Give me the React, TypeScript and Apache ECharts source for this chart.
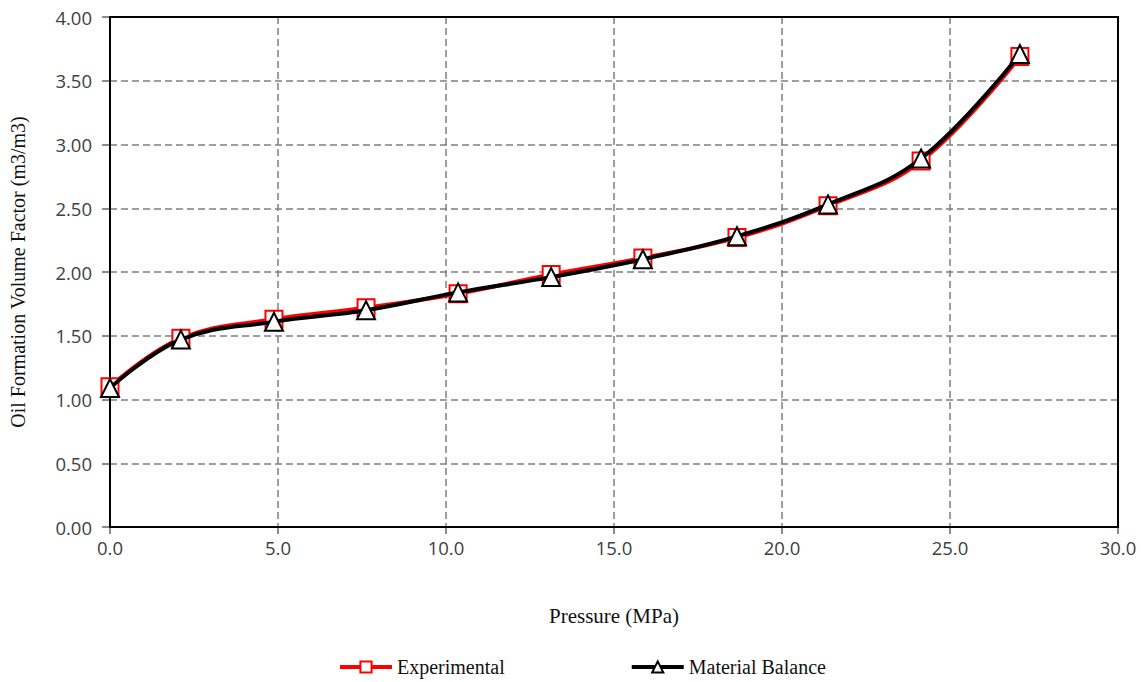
import React, { useEffect, useRef } from "react";
import * as echarts from "echarts";

const pressure = [0.0, 2.11, 4.88, 7.62, 10.36, 13.13, 15.86, 18.66, 21.37, 24.14, 27.08];
const experimental = [1.1, 1.48, 1.63, 1.72, 1.83, 1.98, 2.11, 2.27, 2.52, 2.87, 3.69];
const materialBalance = [1.09, 1.47, 1.61, 1.7, 1.84, 1.96, 2.1, 2.28, 2.53, 2.89, 3.71];
const xTicks = { min: 0, max: 30, interval: 5 };
const yTicks = { min: 0, max: 4, interval: 0.5 };

export default function App() {
  const ref = useRef<HTMLDivElement>(null);
  useEffect(() => {
    if (!ref.current) return;
    const chart = echarts.init(ref.current, null, { renderer: "svg" });
    const tickFont = { fontFamily: "Open Sans", fontSize: 18.5, color: "#404040" };
    chart.setOption({
      animation: false,
      backgroundColor: "#fff",
      grid: {
        left: 110, right: 23, top: 17, bottom: 155,
        outerBoundsMode: "none", containLabel: false,
        show: true, borderColor: "#000", borderWidth: 2, z: 3,
      },
      xAxis: {
        type: "value",
        min: xTicks.min,
        max: xTicks.max,
        interval: xTicks.interval,
        name: "Pressure (MPa)",
        nameLocation: "middle",
        nameGap: 78,
        nameTextStyle: { fontFamily: "Liberation Serif", fontSize: 21, color: "#111" },
        axisLine: { show: true, lineStyle: { color: "#000", width: 2 } },
        axisTick: { show: true, length: 7, lineStyle: { color: "#666", width: 1.5 } },
        axisLabel: { ...tickFont, margin: 11, formatter: (v: number) => v.toFixed(1) },
        splitLine: { show: true, lineStyle: { color: "#808080", width: 1.5, type: [7, 4] } },
      },
      yAxis: {
        type: "value",
        min: yTicks.min,
        max: yTicks.max,
        interval: yTicks.interval,
        name: "Oil Formation Volume Factor (m3/m3)",
        nameLocation: "middle",
        nameGap: 82,
        nameTextStyle: { fontFamily: "Liberation Serif", fontSize: 20, color: "#111" },
        axisLine: { show: true, lineStyle: { color: "#000", width: 2 } },
        axisTick: { show: true, length: 8, lineStyle: { color: "#666", width: 1.5 } },
        axisLabel: { ...tickFont, margin: 18, formatter: (v: number) => v.toFixed(2) },
        splitLine: { show: true, lineStyle: { color: "#808080", width: 1.5, type: [7, 4] } },
      },
      legend: {
        bottom: 0,
        left: 333,
        itemGap: 125,
        itemWidth: 52,
        itemHeight: 14,
        lineStyle: { width: 4 },
        textStyle: { fontFamily: "Liberation Serif", fontSize: 20, color: "#111" },
        data: ["Experimental", "Material Balance"],
      },
      series: [
        {
          name: "Experimental",
          type: "line",
          smooth: 0.4,
          data: pressure.map((p, i) => [p, experimental[i]]),
          symbol: "rect",
          symbolSize: 17,
          lineStyle: { color: "#ff0000", width: 4 },
          itemStyle: { color: "#fff", borderColor: "#ff0000", borderWidth: 2 },
          z: 4,
        },
        {
          name: "Material Balance",
          type: "line",
          smooth: 0.4,
          data: pressure.map((p, i) => [p, materialBalance[i]]),
          symbol: "triangle",
          symbolSize: 18,
          lineStyle: { color: "#000", width: 4 },
          itemStyle: { color: "#fff", borderColor: "#000", borderWidth: 2 },
          z: 5,
        },
      ],
    });
    return () => chart.dispose();
  }, []);
  return <div ref={ref} style={{ position: "fixed", left: 0, top: 0, width: 1141, height: 682 }} />;
}
